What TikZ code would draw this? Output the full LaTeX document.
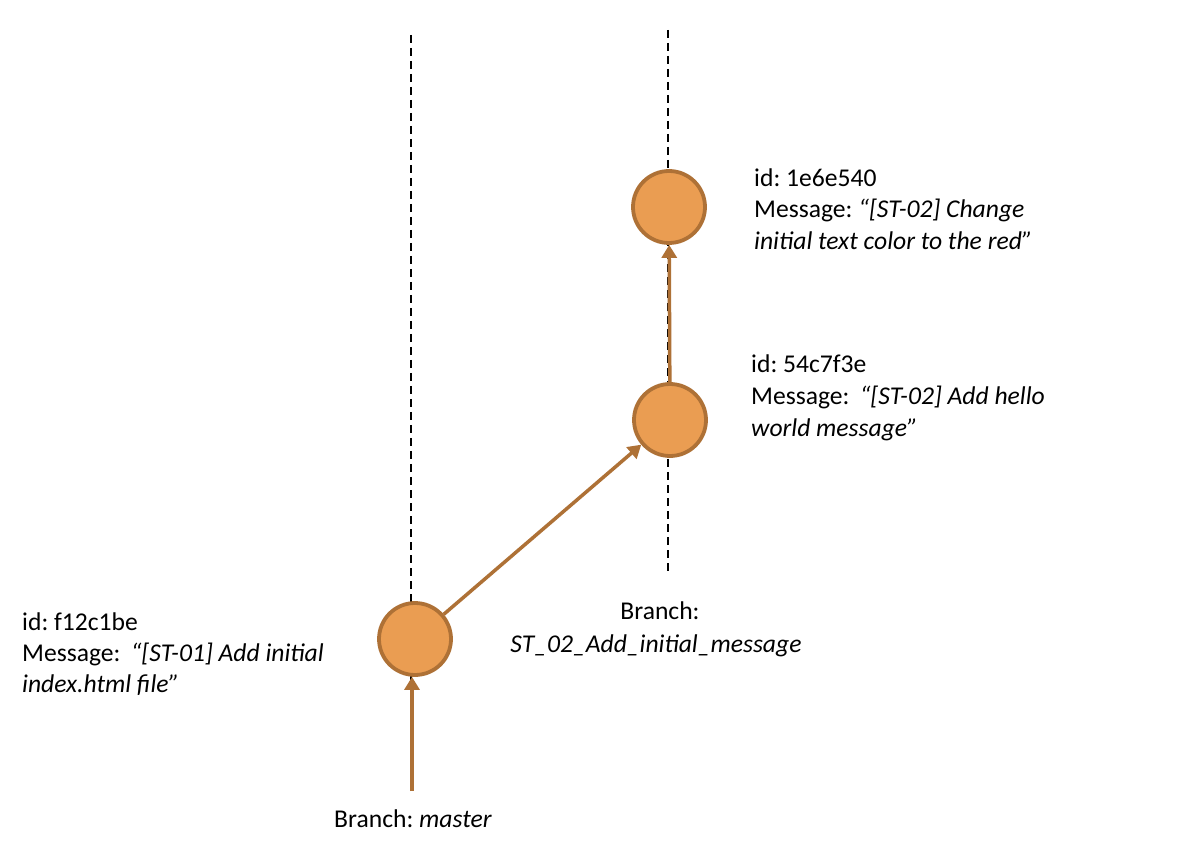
\documentclass[tikz,border=0pt]{standalone}
\usepackage{fontspec}
\setmainfont{Carlito}
\usetikzlibrary{arrows.meta}
\definecolor{cfill}{RGB}{234,157,82}
\definecolor{cline}{RGB}{174,113,54}
\frenchspacing
\begin{document}
\begin{tikzpicture}[x=1pt,y=-1pt,
  commit/.style={circle,draw=cline,fill=cfill,line width=3.8pt,minimum size=72pt,inner sep=0pt},
  arr/.style={draw=cline,line width=3.5pt,-{Triangle[length=13pt,width=15pt]}},
  lane/.style={draw=black,line width=1.8pt,dash pattern=on 8pt off 5pt},
  txt/.style={font=\fontsize{25.6}{31}\selectfont,inner sep=0pt,anchor=base west},
  ctxt/.style={font=\fontsize{25.6}{31}\selectfont,inner sep=0pt,anchor=base}]
\fill[white] (0,0) rectangle (1187,850);
% lanes
\coordinate (l1t) at (411,35);
\coordinate (l1b) at (411,790);
\coordinate (l2t) at (668,30);
\coordinate (l2b) at (668,572);
\draw[lane] (l1t) -- (l1b);
\draw[lane] (l2t) -- (l2b);
% commits
\node[commit] (c1) at (415,639) {};
\node[commit] (c2) at (670,420) {};
\node[commit] (c3) at (669,207) {};
% connectors
\coordinate (m0) at (412,791);
\draw[arr] (m0) -- (m0 |- c1.south);
\draw[arr] (c1) -- (c2);
\draw[arr] (c2) -- (c3);
% texts
\node[txt] (t3a) at (754,187) {id: 1e6e540};
\node[txt] (t3b) at (754,218) {Message: \textit{“[ST-02] Change}};
\node[txt] (t3c) at (754,250) {\textit{initial text color to the red”}};
\node[txt] (t2a) at (751,373) {id: 54c7f3e};
\node[txt] (t2b) at (751,405) {Message:\hspace{0.4em}\textit{“[ST-02] Add hello}};
\node[txt] (t2c) at (751,436) {\textit{world message”}};
\node[txt] (t1a) at (22,630) {id: f12c1be};
\node[txt] (t1b) at (22,661) {Message:\hspace{0.4em}\textit{“[ST-01] Add initial}};
\node[txt] (t1c) at (22,692) {\textit{index.html file”}};
\node[ctxt] (b2a) at (660,619) {Branch:};
\node[ctxt] (b2b) at (656,652) {\textit{ST\_02\_Add\_initial\_message}};
\node[ctxt] (b1) at (413,827) {Branch: \textit{master}};
\end{tikzpicture}
\end{document}
